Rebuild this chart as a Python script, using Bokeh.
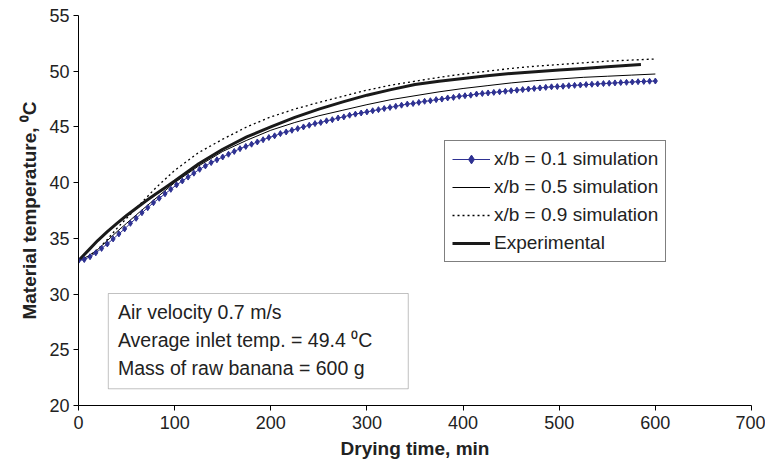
from bokeh.plotting import figure
from bokeh.models import Range1d, Legend, LegendItem, BoxAnnotation, Label
from bokeh.embed import file_html
from bokeh.resources import INLINE

# ---- data ----
t_sim01 = list(range(0, 601, 6))
T_sim01 = [33.0, 33.1, 33.35, 33.7, 34.1, 34.5, 34.95, 35.4, 35.85, 36.35,
           36.8, 37.3, 37.75, 38.2, 38.6, 39.0, 39.4, 39.8, 40.15, 40.5,
           40.85, 41.2, 41.5, 41.8, 42.05, 42.3, 42.55, 42.8, 43.05, 43.25,
           43.45, 43.65, 43.85, 44.05, 44.2, 44.4, 44.55, 44.7, 44.85, 45.0,
           45.15, 45.3, 45.4, 45.55, 45.65, 45.8, 45.9, 46.05, 46.15, 46.25,
           46.35, 46.45, 46.55, 46.65, 46.75, 46.85, 46.95, 47.05, 47.1, 47.2,
           47.3, 47.35, 47.45, 47.5, 47.6, 47.65, 47.75, 47.8, 47.85, 47.95,
           48.0, 48.05, 48.1, 48.15, 48.2, 48.25, 48.3, 48.35, 48.4, 48.45,
           48.5, 48.55, 48.6, 48.62, 48.65, 48.7, 48.73, 48.76, 48.8, 48.83,
           48.86, 48.89, 48.92, 48.95, 48.98, 49.0, 49.03, 49.06, 49.08, 49.1,
           49.12]

t_sim05 = [0, 10, 20, 30, 40, 50, 60, 75, 100, 125, 150, 175, 200, 225, 250,
           275, 300, 325, 350, 375, 400, 425, 450, 475, 500, 525, 550, 575, 600]
T_sim05 = [33.0, 33.4, 34.0, 34.8, 35.6, 36.35, 37.1, 38.2, 40.0, 41.5, 42.8,
           43.8, 44.7, 45.4, 46.0, 46.5, 47.0, 47.45, 47.8, 48.15, 48.45, 48.7,
           48.95, 49.15, 49.3, 49.45, 49.55, 49.65, 49.75]

t_sim09 = [0, 10, 20, 30, 40, 50, 60, 70, 80, 90, 100, 125, 150, 175, 200, 225,
           250, 275, 300, 325, 350, 375, 400, 425, 450, 475, 500, 525, 550, 575, 600]
T_sim09 = [33.0, 33.3, 34.0, 34.9, 35.9, 36.8, 37.7, 38.6, 39.5, 40.3, 41.1,
           42.7, 43.9, 45.0, 45.9, 46.6, 47.2, 47.75, 48.3, 48.75, 49.1, 49.45,
           49.75, 50.0, 50.25, 50.45, 50.6, 50.75, 50.9, 51.0, 51.1]

t_exp = [0, 10, 20, 30, 40, 50, 60, 70, 80, 90, 100, 125, 150, 175, 200, 225,
         250, 275, 300, 325, 350, 375, 400, 425, 450, 475, 500, 525, 550, 585]
T_exp = [33.0, 33.9, 34.8, 35.6, 36.35, 37.05, 37.7, 38.35, 38.95, 39.55, 40.15,
         41.7, 43.0, 44.1, 45.0, 45.85, 46.6, 47.25, 47.85, 48.35, 48.8, 49.1,
         49.35, 49.6, 49.8, 49.95, 50.1, 50.25, 50.4, 50.6]

x_ticks = [0, 100, 200, 300, 400, 500, 600, 700]
y_ticks = [20, 25, 30, 35, 40, 45, 50, 55]

FONT = "Liberation Sans"

p = figure(width=765, height=468, output_backend="svg", toolbar_location=None,
           x_range=Range1d(0, 700), y_range=Range1d(20, 55),
           min_border_left=78, min_border_right=14, min_border_top=15,
           min_border_bottom=63)
p.outline_line_color = None
p.xgrid.visible = False
p.ygrid.visible = False

for ax in (p.xaxis[0], p.yaxis[0]):
    ax.axis_line_color = "black"
    ax.major_tick_line_color = "black"
    ax.major_tick_in = 0
    ax.major_tick_out = 5
    ax.minor_tick_line_color = None
    ax.major_label_text_font = FONT
    ax.major_label_text_font_size = "18px"
    ax.major_label_text_color = "#222222"
    ax.axis_label_text_font = FONT
    ax.axis_label_text_font_size = "19px"
    ax.axis_label_text_font_style = "bold"
    ax.axis_label_text_color = "#222222"

p.xaxis.ticker = x_ticks
p.yaxis.ticker = y_ticks
p.xaxis.axis_label = "Drying time, min"
p.yaxis.axis_label = "Material temperature, \u2070C"
p.xaxis.major_label_standoff = 5
p.yaxis.major_label_standoff = 4
p.xaxis.axis_label_standoff = 6
p.yaxis.axis_label_standoff = 6

BLUE = "#2e3192"
r09 = p.line(t_sim09, T_sim09, line_color="black", line_width=1.3, line_dash="2 3")
r05 = p.line(t_sim05, T_sim05, line_color="black", line_width=1)
rexp = p.line(t_exp, T_exp, line_color="#1a1a1a", line_width=3)
r01l = p.line(t_sim01, T_sim01, line_color=BLUE, line_width=1)
r01m = p.scatter(t_sim01, T_sim01, marker="diamond", size=6, fill_color=BLUE,
                 line_color=BLUE)

legend = Legend(items=[
    LegendItem(label="x/b = 0.1 simulation", renderers=[r01l, r01m]),
    LegendItem(label="x/b = 0.5 simulation", renderers=[r05]),
    LegendItem(label="x/b = 0.9 simulation", renderers=[r09]),
    LegendItem(label="Experimental", renderers=[rexp]),
], location=(366, 143))
legend.border_line_color = "black"
legend.border_line_width = 1
legend.background_fill_alpha = 1
legend.label_text_font = FONT
legend.label_text_font_size = "19px"
legend.label_text_color = "#222222"
legend.glyph_width = 38
legend.glyph_height = 22
legend.label_height = 22
legend.label_standoff = 4
legend.spacing = 6
legend.padding = 7
legend.margin = 0
p.add_layout(legend)

box = BoxAnnotation(left=31, right=343, bottom=21.5, top=30.05,
                    fill_color="white", fill_alpha=1, line_color="#333333",
                    line_width=1)
p.add_layout(box)

info_lines = ["Air velocity 0.7 m/s",
              "Average inlet temp. = 49.4 \u2070C",
              "Mass of raw banana = 600 g"]
for i, txt in enumerate(info_lines):
    p.add_layout(Label(x=41, y=28.35 - 2.47 * i, text=txt, text_font=FONT,
                       text_font_size="19.5px", text_color="#222222",
                       text_baseline="middle"))

open("out.html", "w").write(file_html(p, INLINE))
